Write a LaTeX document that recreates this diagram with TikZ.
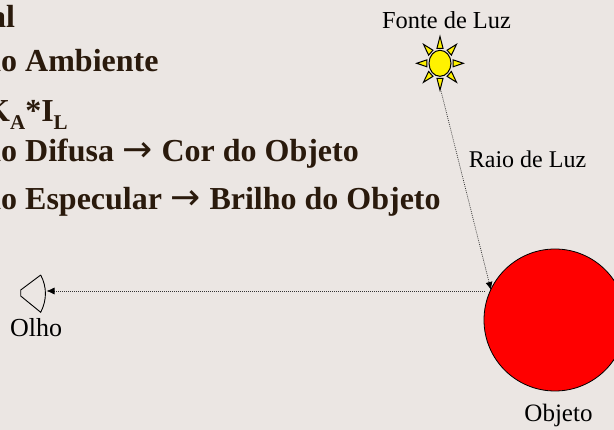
\documentclass[tikz,border=0pt]{standalone}
\usepackage{fontspec}
\setmainfont{Liberation Serif}
\newfontfamily\arrowfont{DejaVu Sans}
\usetikzlibrary{arrows.meta,shapes.geometric}
\definecolor{bgc}{HTML}{EBE6E3}
\definecolor{inkc}{HTML}{2A1A0C}
\newcommand{\bigarrow}{\hspace{0.02em}{\arrowfont\mdseries\fontsize{36}{36}\selectfont →}\hspace{0.02em}}
\tikzset{
  headline/.style={anchor=base west,inner sep=0pt,text=inkc,font=\fontsize{32}{34}\selectfont\bfseries},
  caption/.style={anchor=base,inner sep=0pt,text=black,font=\fontsize{24.4}{26}\selectfont},
  ray/.style={line width=0.7pt,dash pattern=on 0.9pt off 1.1pt,draw=black!80,
    -{Latex[length=8pt,width=7pt,black,sep=0pt]}},
  spike/.style={draw=black,fill=yellow,line width=1pt,line join=miter}
}
\begin{document}
\begin{tikzpicture}[x=1pt,y=-1pt]
\useasboundingbox (0,0) rectangle (614,430);
\fill[bgc] (0,0) rectangle (614,430);
\begin{scope}
\clip (0,0) rectangle (614,430);
\node[headline] (t1) at (-10,28) {al};
\node[headline] (t2) at (-15,72) {ão Ambiente};
\node[headline] (t3) at (-15,122) {K\raisebox{-0.22em}{\fontsize{21}{22}\selectfont A}*I\raisebox{-0.22em}{\fontsize{21}{22}\selectfont L}};
\node[headline] (t4) at (-15,162) {ão Difusa \bigarrow{} Cor do Objeto};
\node[headline] (t5) at (-15,210) {ão Especular \bigarrow{} Brilho do Objeto};
\end{scope}
\node[caption] (fonte) at (446.5,29) {Fonte de Luz};
\node[caption,font=\fontsize{24}{26}\selectfont] (raio) at (527.5,168) {Raio de Luz};
\node[caption,font=\fontsize{26}{28}\selectfont] (olho) at (36,337) {Olho};
\node[caption,font=\fontsize{25}{27}\selectfont] (objeto) at (558.5,422) {Objeto};
% sun
\node[draw=black,fill=yellow,line width=1pt,ellipse,minimum width=22pt,minimum height=26pt,inner sep=0pt] (sun) at (440,63.3) {};
\foreach \a in {0,45,...,315}{
  \filldraw[spike,shift={(sun.center)},xscale=0.87,rotate=\a] (-3.5,-15) -- (0,-26.8) -- (3.5,-15) -- cycle;
}
\coordinate (suntip) at (440.5,89);
% object
\node[draw=black,fill=red,line width=0.8pt,circle,minimum size=142pt,inner sep=0pt] (obj) at (555,320) {};
\coordinate (hit) at (491,290);
% eye
\draw[black,line width=0.9pt,fill=bgc] (40.7,275) coordinate (e1) -- (20.7,290) -- (20.7,296) -- (40.7,312.3)
  .. controls (47,300) and (47,287) .. (e1);
\coordinate (eyetip) at (46.5,291);
\coordinate (leave) at (484.5,291);
\draw[ray] (suntip) -- (hit);
\draw[ray] (leave) -- (eyetip);
\end{tikzpicture}
\end{document}
